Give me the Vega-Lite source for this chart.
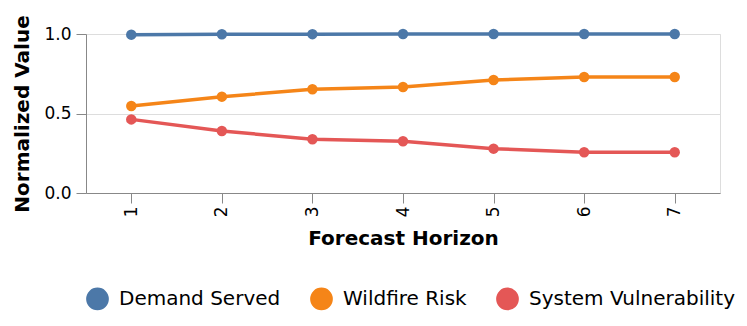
{
  "$schema": "https://vega.github.io/schema/vega-lite/v6.json",
  "width": 634,
  "height": 159,
  "padding": {"top": 14, "left": 12, "right": 5, "bottom": 5},
  "config": {
    "font": "DejaVu Sans",
    "axis": {"labelFontSize": 17, "titleFontSize": 20, "labelFont": "DejaVu Sans", "titleFont": "DejaVu Sans", "tickSize": 10}
  },
  "data": {
    "values": [
      {"horizon": 1, "metric": "Demand Served", "value": 0.996},
      {"horizon": 2, "metric": "Demand Served", "value": 0.998},
      {"horizon": 3, "metric": "Demand Served", "value": 0.999},
      {"horizon": 4, "metric": "Demand Served", "value": 1.0},
      {"horizon": 5, "metric": "Demand Served", "value": 1.0},
      {"horizon": 6, "metric": "Demand Served", "value": 1.0},
      {"horizon": 7, "metric": "Demand Served", "value": 1.0},
      {"horizon": 1, "metric": "Wildfire Risk", "value": 0.547},
      {"horizon": 2, "metric": "Wildfire Risk", "value": 0.606},
      {"horizon": 3, "metric": "Wildfire Risk", "value": 0.652},
      {"horizon": 4, "metric": "Wildfire Risk", "value": 0.667},
      {"horizon": 5, "metric": "Wildfire Risk", "value": 0.711},
      {"horizon": 6, "metric": "Wildfire Risk", "value": 0.730},
      {"horizon": 7, "metric": "Wildfire Risk", "value": 0.730},
      {"horizon": 1, "metric": "System Vulnerability", "value": 0.463},
      {"horizon": 2, "metric": "System Vulnerability", "value": 0.390},
      {"horizon": 3, "metric": "System Vulnerability", "value": 0.338},
      {"horizon": 4, "metric": "System Vulnerability", "value": 0.325},
      {"horizon": 5, "metric": "System Vulnerability", "value": 0.279},
      {"horizon": 6, "metric": "System Vulnerability", "value": 0.256},
      {"horizon": 7, "metric": "System Vulnerability", "value": 0.256}
    ]
  },
  "mark": {"type": "line", "point": {"size": 110, "filled": true, "opacity": 1}, "strokeWidth": 3.5},
  "encoding": {
    "x": {"field": "horizon", "type": "ordinal", "title": "Forecast Horizon", "axis": {"labelAngle": -90, "labelPadding": 3, "titlePadding": 12}},
    "y": {"field": "value", "type": "quantitative", "title": "Normalized Value", "axis": {"tickCount": 3, "labelPadding": 5, "titlePadding": 11}},
    "color": {
      "field": "metric",
      "type": "nominal",
      "sort": ["Demand Served", "Wildfire Risk", "System Vulnerability"],
      "legend": {"orient": "bottom", "title": null, "symbolType": "circle", "symbolSize": 450, "symbolOpacity": 1, "labelLimit": 0, "labelOffset": 10, "labelFontSize": 20, "labelFont": "DejaVu Sans", "columnPadding": 26, "offset": 38}
    }
  }
}
